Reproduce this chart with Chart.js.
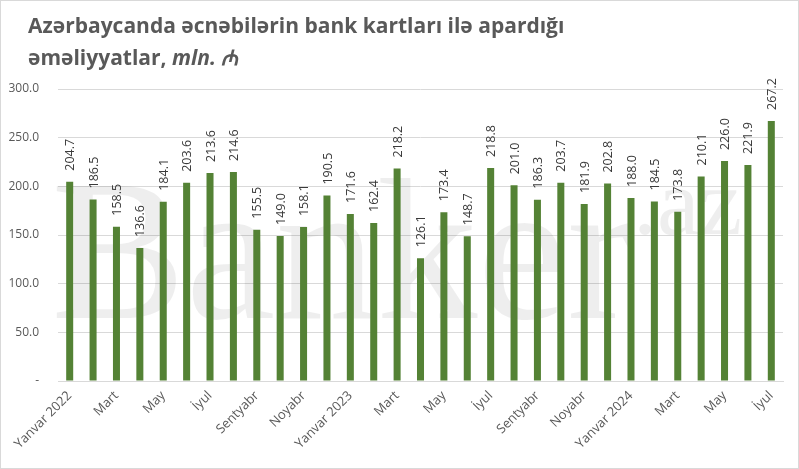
<!DOCTYPE html>
<html>
<head>
<meta charset="utf-8">
<script src="https://cdn.jsdelivr.net/npm/chart.js@4.4.0/dist/chart.umd.min.js"></script>
<style>
  html, body { margin: 0; padding: 0; background: #fff; }
  #wrap { position: relative; width: 799px; height: 469px; box-sizing: border-box; border: 1px solid #d9d9d9; }
  #title { position: absolute; left: 27px; top: 8px; font: bold 21px "Open Sans", sans-serif; color: #595959; line-height: 32px; }
  #title i { font-style: italic; }
  canvas { position: absolute; left: 0; top: 0; }
</style>
</head>
<body>
<div id="wrap">
  <canvas id="chart" width="797" height="467"></canvas>
  <div id="title">Azərbaycanda əcnəbilərin bank kartları ilə apardığı<br>əməliyyatlar, <i>mln. ₼</i></div>
</div>
<script>
// months, Jan 2022 .. Jul 2024
const months = [
    "Yanvar 2022", "Fevral", "Mart", "Aprel", "May", "İyun", "İyul", "Avqust", "Sentyabr", "Oktyabr", "Noyabr", "Dekabr",
    "Yanvar 2023", "Fevral", "Mart", "Aprel", "May", "İyun", "İyul", "Avqust", "Sentyabr", "Oktyabr", "Noyabr", "Dekabr",
    "Yanvar 2024", "Fevral", "Mart", "Aprel", "May", "İyun", "İyul"
];
const amounts = [
    204.7, 186.5, 158.5, 136.6, 184.1, 203.6, 213.6, 214.6, 155.5, 149.0, 158.1, 190.5,
    171.6, 162.4, 218.2, 126.1, 173.4, 148.7, 218.8, 201.0, 186.3, 203.7, 181.9, 202.8,
    188.0, 184.5, 173.8, 210.1, 226.0, 221.9, 267.2
];
const yTicks = [0, 50, 100, 150, 200, 250, 300];

const FONT = '"Open Sans", sans-serif';
const GREY = "#595959";

// value labels, written upward above each bar
const barLabels = {
    id: "barLabels",
    afterDatasetsDraw(chart) {
        const ctx = chart.ctx;
        const meta = chart.getDatasetMeta(0);
        ctx.save();
        ctx.font = "12.5px " + FONT;
        ctx.fillStyle = "#3a3a3a";
        ctx.textAlign = "left";
        ctx.textBaseline = "middle";
        meta.data.forEach((bar, i) => {
            ctx.save();
            ctx.translate(bar.x + 1, bar.y - 11);
            ctx.rotate(-Math.PI / 2);
            ctx.fillText(amounts[i].toFixed(1), 0, 0);
            ctx.restore();
        });
        ctx.restore();
    }
};

// faint "Banker.az" mark behind the bars
const watermark = {
    id: "watermark",
    beforeDatasetsDraw(chart) {
        const ctx = chart.ctx;
        ctx.save();
        ctx.fillStyle = "rgba(0,0,0,0.065)";
        ctx.textBaseline = "alphabetic";
        ctx.font = "202px 'Liberation Serif', serif";
        ctx.fillText("Banker", 50, 317);
        ctx.font = "96px 'Liberation Serif', serif";
        ctx.fillText(".az", 632, 233);
        ctx.restore();
    }
};

new Chart(document.getElementById("chart"), {
    type: "bar",
    data: {
        labels: months,
        datasets: [{
            data: amounts,
            backgroundColor: "#548235",
            barPercentage: 0.6,
            categoryPercentage: 0.5,
        }]
    },
    options: {
        responsive: false,
        animation: false,
        layout: { padding: { top: 88, right: 15, left: 0, bottom: 0 } },
        plugins: {
            legend: { display: false },
            tooltip: { enabled: false },
        },
        scales: {
            x: {
                grid: { display: false, drawTicks: false },
                border: { color: "#d9d9d9", width: 1 },
                ticks: {
                    autoSkip: false,
                    minRotation: 45,
                    maxRotation: 45,
                    padding: 7,
                    color: GREY,
                    font: { family: FONT, size: 13 },
                    callback: (v, i) => (i % 2 === 0 ? months[i] : ""),
                },
                afterFit: s => { s.height = 87; },
            },
            y: {
                min: 0,
                max: 300,
                afterBuildTicks: s => { s.ticks = yTicks.map(v => ({ value: v })); },
                grid: { color: "#d9d9d9", drawTicks: false },
                border: { display: false },
                ticks: {
                    padding: 19,
                    color: GREY,
                    font: { family: FONT, size: 12 },
                    callback: v => (v === 0 ? "-" : v.toFixed(1)),
                },
                afterFit: s => { s.width = 57; },
            }
        }
    },
    plugins: [barLabels, watermark]
});
</script>
</body>
</html>
